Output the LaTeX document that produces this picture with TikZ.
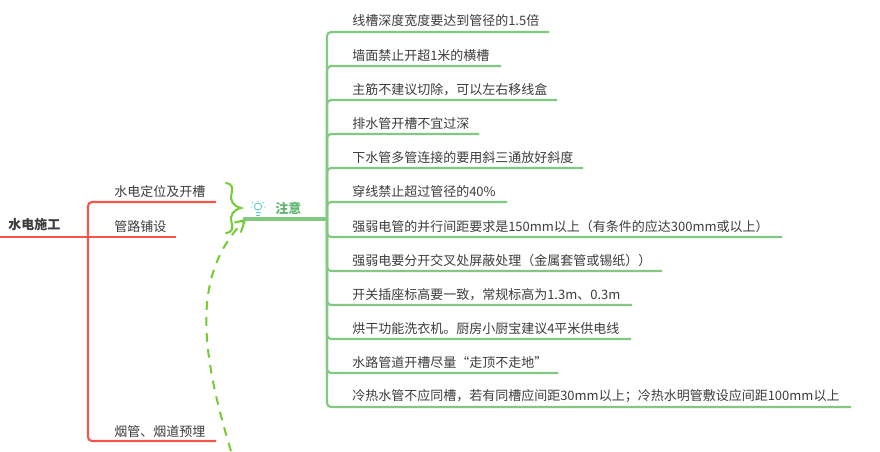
\documentclass[tikz,border=0pt]{standalone}
\usepackage{fontspec}
\setmainfont{Noto Sans CJK SC}
\definecolor{rosso}{RGB}{245,85,75}
\definecolor{verde}{RGB}{130,200,130}
\definecolor{verdetesto}{RGB}{95,180,110}
\definecolor{lime}{RGB}{115,205,50}
\definecolor{lampada}{RGB}{95,205,200}
\definecolor{testo}{RGB}{60,60,60}
\tikzset{
  voce/.style={anchor=west, inner sep=0pt, font=\fontsize{9.75pt}{12pt}\selectfont, text=testo},
  ramorosso/.style={draw=rosso, line width=1.6pt, rounded corners=3pt},
  ramoverde/.style={draw=verde, line width=1.6pt, rounded corners=3pt}
}
\begin{document}
\begin{tikzpicture}[x=0.75pt,y=-0.75pt]
\useasboundingbox (0,0) rectangle (880,451);

% radice
\node[voce, font=\fontsize{9.75pt}{12pt}\selectfont\bfseries] (radice) at (8,225) {水电施工};
\coordinate (r0) at (0,237);
\coordinate (r1) at (88,237);

% rami rossi
\node[voce] (posa) at (114,191.5) {水电定位及开槽};
\node[voce] (tubi) at (114,226.5) {管路铺设};
\node[voce] (fumi) at (114,431.5) {烟管、烟道预埋};
\coordinate (e1) at (216,202);
\coordinate (e2) at (176,237);
\coordinate (e3) at (216,441);

\draw[ramorosso] (r0) -- (e2);
\draw[ramorosso] (r1) |- (e1);
\draw[ramorosso] (r1) |- (e3);

% parentesi
\coordinate (b0) at (226,183);
\coordinate (b1) at (241,208);
\coordinate (b2) at (226,233);
\draw[lime, line width=1.5pt, line cap=round]
  (b0) .. controls (233,184) and (233,189) .. (231.5,194)
  .. controls (230,201) and (233,206) .. (b1)
  .. controls (233,210) and (230,215) .. (231.5,222)
  .. controls (233,228) and (233,232) .. (b2);

% freccia
\coordinate (f0) at (231,451);
\coordinate (f1) at (245,220);
\draw[lime, line width=1.5pt, dash pattern=on 6.5pt off 5.5pt]
  (f0) .. controls (197,340) and (195,270) .. (f1);
\draw[lime, line width=1.5pt, line cap=round] (235,222.5) -- (f1) -- (241,232);

% lampadina
\draw[lampada, line width=0.7pt] (258,206.5) circle (3.6);
\draw[lampada, line width=0.7pt] (255.5,212.5) -- (260.5,212.5) (256,215) -- (260,215);
\draw[lampada, line width=0.7pt] (258,200) -- (258,201.5) (252,202) -- (253,203) (264,202) -- (263,203)
  (250.5,207) -- (252,207) (264,207) -- (265.5,207);

% nota
\node[voce, text=verdetesto, font=\fontsize{9.75pt}{12pt}\selectfont\bfseries] (nota) at (275,208.5) {注意};
\coordinate (n0) at (243,219);
\coordinate (n1) at (327,219);
\draw[draw=verde, line width=2.4pt] (n0) -- (n1);

% voci
\node[voce] (v1) at (352,20.5) {线槽深度宽度要达到管径的1.5倍};
\node[voce] (v2) at (352,55.5) {墙面禁止开超1米的横槽};
\node[voce] (v3) at (352,89.5) {主筋不建议切除，可以左右移线盒};
\node[voce] (v4) at (352,123.5) {排水管开槽不宜过深};
\node[voce] (v5) at (352,157.5) {下水管多管连接的要用斜三通放好斜度};
\node[voce] (v6) at (352,191.5) {穿线禁止超过管径的40\%};
\node[voce] (v7) at (352,226.5) {强弱电管的并行间距要求是150mm以上（有条件的应达300mm或以上）};
\node[voce] (v8) at (352,260.5) {强弱电要分开交叉处屏蔽处理（金属套管或锡纸））};
\node[voce] (v9) at (352,294.5) {开关插座标高要一致，常规标高为1.3m、0.3m};
\node[voce] (v10) at (352,328.5) {烘干功能洗衣机。厨房小厨宝建议4平米供电线};
\node[voce] (v11) at (352,362.5) {水路管道开槽尽量“走顶不走地”};
\node[voce] (v12) at (352,396.5) {冷热水管不应同槽，若有同槽应间距30mm以上；冷热水明管敷设应间距100mm以上};

% linee
\draw[ramoverde] (n1) |- (549,32);
\draw[ramoverde] (n1) |- (501,66);
\draw[ramoverde] (n1) |- (557,100);
\draw[ramoverde] (n1) |- (479,134);
\draw[ramoverde] (n1) |- (583,168);
\draw[ramoverde] (n1) |- (507,202);
\draw[ramoverde] (n1) |- (782,237);
\draw[ramoverde] (n1) |- (662,271);
\draw[ramoverde] (n1) |- (632,305);
\draw[ramoverde] (n1) |- (631,339);
\draw[ramoverde] (n1) |- (558,373);
\draw[ramoverde] (n1) |- (851,407);

\end{tikzpicture}
\end{document}
